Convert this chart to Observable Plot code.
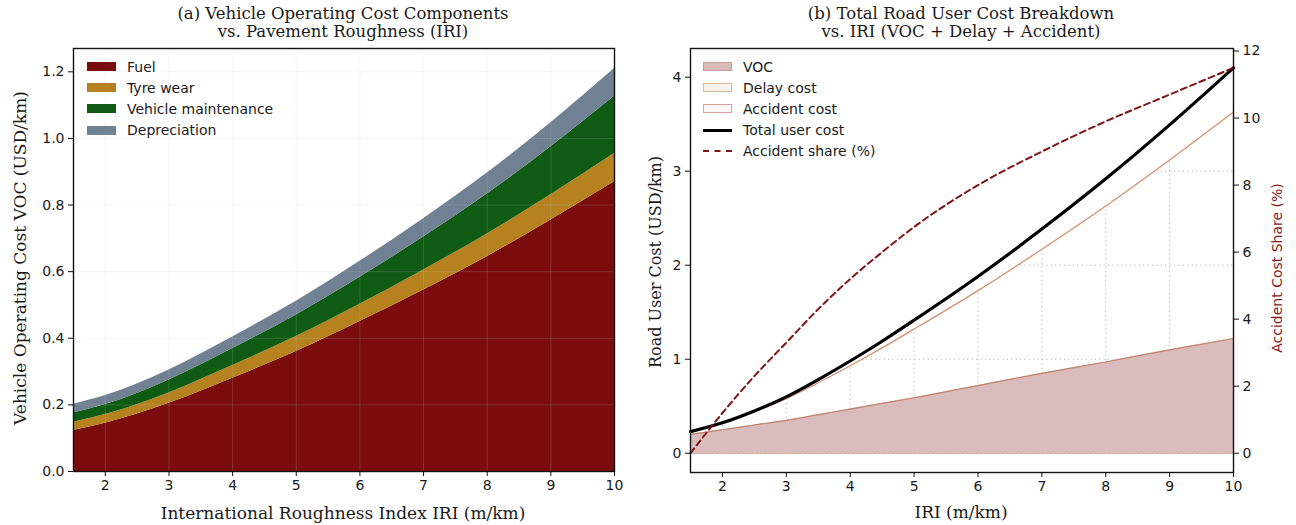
<!DOCTYPE html>
<html><head><meta charset="utf-8">
<script src="https://cdn.jsdelivr.net/npm/d3@7"></script>
<script src="https://cdn.jsdelivr.net/npm/@observablehq/plot@0.6"></script>
<style>
body{margin:0;background:#fff;}
#wrap{position:relative;width:1296px;height:525px;overflow:hidden;background:#fff;}
#wrap svg{position:absolute;top:0;}
.title{position:absolute;font-family:"DejaVu Serif";font-size:16.5px;text-align:center;line-height:18px;color:#1a1a1a;transform:translateX(-50%);white-space:nowrap;}
.lab{position:absolute;font-family:"DejaVu Serif";font-size:17px;color:#1a1a1a;white-space:nowrap;transform:translate(-50%,-50%);}
.rot{transform:translate(-50%,-50%) rotate(-90deg);}
.legend{position:absolute;font-family:"DejaVu Sans";font-size:14px;color:#1a1a1a;}
.legend .row{display:flex;align-items:center;height:21.2px;white-space:nowrap;}
.sw{display:inline-block;width:29px;height:9px;margin-right:11px;box-sizing:border-box;flex:none;}
.ln{display:inline-block;width:29px;height:0;margin-right:11px;flex:none;}
</style></head>
<body><div id="wrap"></div>
<script>
// ---------- Panel (a) data ----------
const iriA = [1.5, 2, 3, 4, 5, 6, 7, 8, 9, 10];
const fuel = [0.123, 0.145, 0.205, 0.280, 0.360, 0.450, 0.545, 0.645, 0.755, 0.870];
const tyre = [0.025, 0.026, 0.031, 0.038, 0.045, 0.052, 0.060, 0.068, 0.076, 0.085];
const maint = [0.028, 0.030, 0.039, 0.051, 0.065, 0.081, 0.099, 0.120, 0.144, 0.172];
const depr = [0.026, 0.027, 0.030, 0.035, 0.041, 0.048, 0.055, 0.063, 0.072, 0.083];
const compNames = ["Fuel", "Tyre wear", "Vehicle maintenance", "Depreciation"];
const compColors = ["#7a0c0e", "#b5821f", "#0f5b14", "#6f8193"];
const xTicks = [2, 3, 4, 5, 6, 7, 8, 9, 10];
const yTicksA = [0, 0.2, 0.4, 0.6, 0.8, 1.0, 1.2];

// ---------- Panel (b) data ----------
const iriB = [1.5, 2, 2.5, 3, 3.5, 4, 4.5, 5, 6, 7, 8, 9, 10];
const voc = [0.20, 0.25, 0.30, 0.35, 0.41, 0.47, 0.53, 0.59, 0.72, 0.85, 0.97, 1.10, 1.22];
const delay = [0.03, 0.07, 0.14, 0.23, 0.34, 0.46, 0.59, 0.73, 1.01, 1.32, 1.66, 2.02, 2.41];
const accident = [0.0, 0.004, 0.010, 0.020, 0.034, 0.051, 0.071, 0.095, 0.150, 0.214, 0.289, 0.373, 0.470];
const share = [0.0, 1.2, 2.3, 3.3, 4.3, 5.2, 6.0, 6.75, 8.0, 9.0, 9.9, 10.7, 11.5];
const yTicksB = [0, 1, 2, 3, 4];
const shareTicks = [0, 2, 4, 6, 8, 10, 12];

const wrap = document.getElementById("wrap");
const font = {fontFamily: "DejaVu Sans", fontSize: "14px", color: "#1a1a1a", background: "transparent", overflow: "visible"};

// ---------- Panel (a) ----------
const rowsA = [];
[fuel, tyre, maint, depr].forEach((arr, k) => arr.forEach((v, i) => rowsA.push({iri: iriA[i], comp: compNames[k], v})));

const plotA = Plot.plot({
  width: 648, height: 525,
  marginLeft: 73, marginRight: 34, marginTop: 48, marginBottom: 54,
  x: {domain: [1.5, 10]},
  y: {domain: [0, 1.27]},
  color: {domain: compNames, range: compColors},
  style: font,
  marks: [
    Plot.areaY(rowsA, Plot.stackY({x: "iri", y: "v", fill: "comp", z: "comp", curve: "monotone-x"})),
    Plot.ruleX(xTicks, {stroke: "#cfcfcf", strokeOpacity: 0.22, strokeWidth: 0.8}),
    Plot.ruleY(yTicksA, {stroke: "#cfcfcf", strokeOpacity: 0.22, strokeWidth: 0.8}),
    Plot.frame({stroke: "#111", strokeWidth: 1.4}),
    Plot.axisX(xTicks, {tickSize: 5, tickPadding: 4, label: null, stroke: "#111", tickFormat: d => String(d)}),
    Plot.axisY(yTicksA, {tickSize: 5, tickPadding: 4, label: null, tickFormat: d => d.toFixed(1), stroke: "#111"})
  ]
});
plotA.style.left = "0px";
wrap.appendChild(plotA);

// ---------- Panel (b) ----------
const yBot = -0.205, yTop = 4.305, sBot = -0.575, sTop = 12.075;
const k = (yTop - yBot) / (sTop - sBot);
const toLeft = s => yBot + (s - sBot) * k;
const rowsB = iriB.map((x, i) => ({
  iri: x,
  voc: voc[i],
  dtop: voc[i] + delay[i],
  total: voc[i] + delay[i] + accident[i],
  share: share[i]
}));
const cv = "monotone-x";
const plotB = Plot.plot({
  width: 648, height: 525,
  marginLeft: 42, marginRight: 63, marginTop: 48, marginBottom: 53,
  x: {domain: [1.5, 10]},
  y: {domain: [yBot, yTop]},
  style: font,
  marks: [
    Plot.ruleX(xTicks, {y1: 0, y2: yTop, stroke: "#a0a0a0", strokeWidth: 0.8, strokeDasharray: "1.2,3.2"}),
    Plot.ruleY(yTicksB, {stroke: "#a0a0a0", strokeWidth: 0.8, strokeDasharray: "1.2,3.2"}),
    Plot.areaY(rowsB, {x: "iri", y1: "dtop", y2: () => yTop, fill: "#fff", curve: cv}),
    Plot.areaY(rowsB, {x: "iri", y1: () => 0, y2: "voc", fill: "#dbbcbc", curve: cv}),
    Plot.lineY(rowsB, {x: "iri", y: () => 0, stroke: "#c99a8a", strokeWidth: 1}),
    Plot.lineY(rowsB, {x: "iri", y: "voc", stroke: "#c08468", strokeWidth: 1.2, curve: cv}),
    Plot.lineY(rowsB, {x: "iri", y: "dtop", stroke: "#d38f74", strokeWidth: 1.3, curve: cv}),
    Plot.lineY(rowsB, {x: "iri", y: "total", stroke: "#000", strokeWidth: 3.2, curve: cv}),
    Plot.lineY(rowsB, {x: "iri", y: d => toLeft(d.share), stroke: "#7f1515", strokeWidth: 2, strokeDasharray: "6,4", curve: cv}),
    Plot.frame({stroke: "#111", strokeWidth: 1.4}),
    Plot.axisX(xTicks, {tickSize: 5, tickPadding: 4, label: null, stroke: "#111", tickFormat: d => String(d)}),
    Plot.axisY(yTicksB, {tickSize: 5, tickPadding: 4, label: null, stroke: "#111", tickFormat: d => String(d)}),
    Plot.axisY(shareTicks.map(toLeft), {anchor: "right", tickSize: 5, tickPadding: 4, label: null, stroke: "#111",
      tickFormat: v => String(Math.round((v - yBot) / k + sBot))})
  ]
});
plotB.style.left = "648px";
wrap.appendChild(plotB);

// ---------- Titles, labels, legends ----------
function addDiv(cls, html, css) {
  const d = document.createElement("div");
  d.className = cls; d.innerHTML = html; Object.assign(d.style, css); wrap.appendChild(d); return d;
}
addDiv("title", "(a) Vehicle Operating Cost Components<br>vs. Pavement Roughness (IRI)", {left: "343px", top: "5px"});
addDiv("title", "(b) Total Road User Cost Breakdown<br>vs. IRI (VOC + Delay + Accident)", {left: "961px", top: "5px"});
addDiv("lab", "International Roughness Index IRI (m/km)", {left: "343px", top: "513px"});
addDiv("lab", "IRI (m/km)", {left: "961px", top: "512px"});
addDiv("lab rot", "Vehicle Operating Cost VOC (USD/km)", {left: "20px", top: "258px"});
addDiv("lab rot", "Road User Cost (USD/km)", {left: "655px", top: "262px", fontSize: "16px"});
addDiv("lab rot", "Accident Cost Share (%)", {left: "1277px", top: "268px", fontFamily: "DejaVu Sans", fontSize: "14px", color: "#8b1a1a"});

const legA = addDiv("legend", "", {left: "87px", top: "56px"});
compNames.forEach((n, i) => {
  legA.innerHTML += `<div class="row"><span class="sw" style="background:${compColors[i]};border:1px solid ${compColors[i]}"></span>${n}</div>`;
});
const legB = addDiv("legend", "", {left: "703px", top: "56px"});
const legBItems = [
  {name: "VOC", sw: "background:#dbbcbc;border:1px solid #c49a9a"},
  {name: "Delay cost", sw: "background:#fbf4ec;border:1px solid #dcb79c"},
  {name: "Accident cost", sw: "background:#fdf6f6;border:1px solid #dea0a0"},
  {name: "Total user cost", ln: "border-top:3px solid #000"},
  {name: "Accident share (%)", ln: "border-top:2px dashed #7f1515"}
];
legBItems.forEach(it => {
  const s = it.sw ? `<span class="sw" style="${it.sw}"></span>` : `<span class="ln" style="${it.ln}"></span>`;
  legB.innerHTML += `<div class="row">${s}${it.name}</div>`;
});
</script>
</body></html>
